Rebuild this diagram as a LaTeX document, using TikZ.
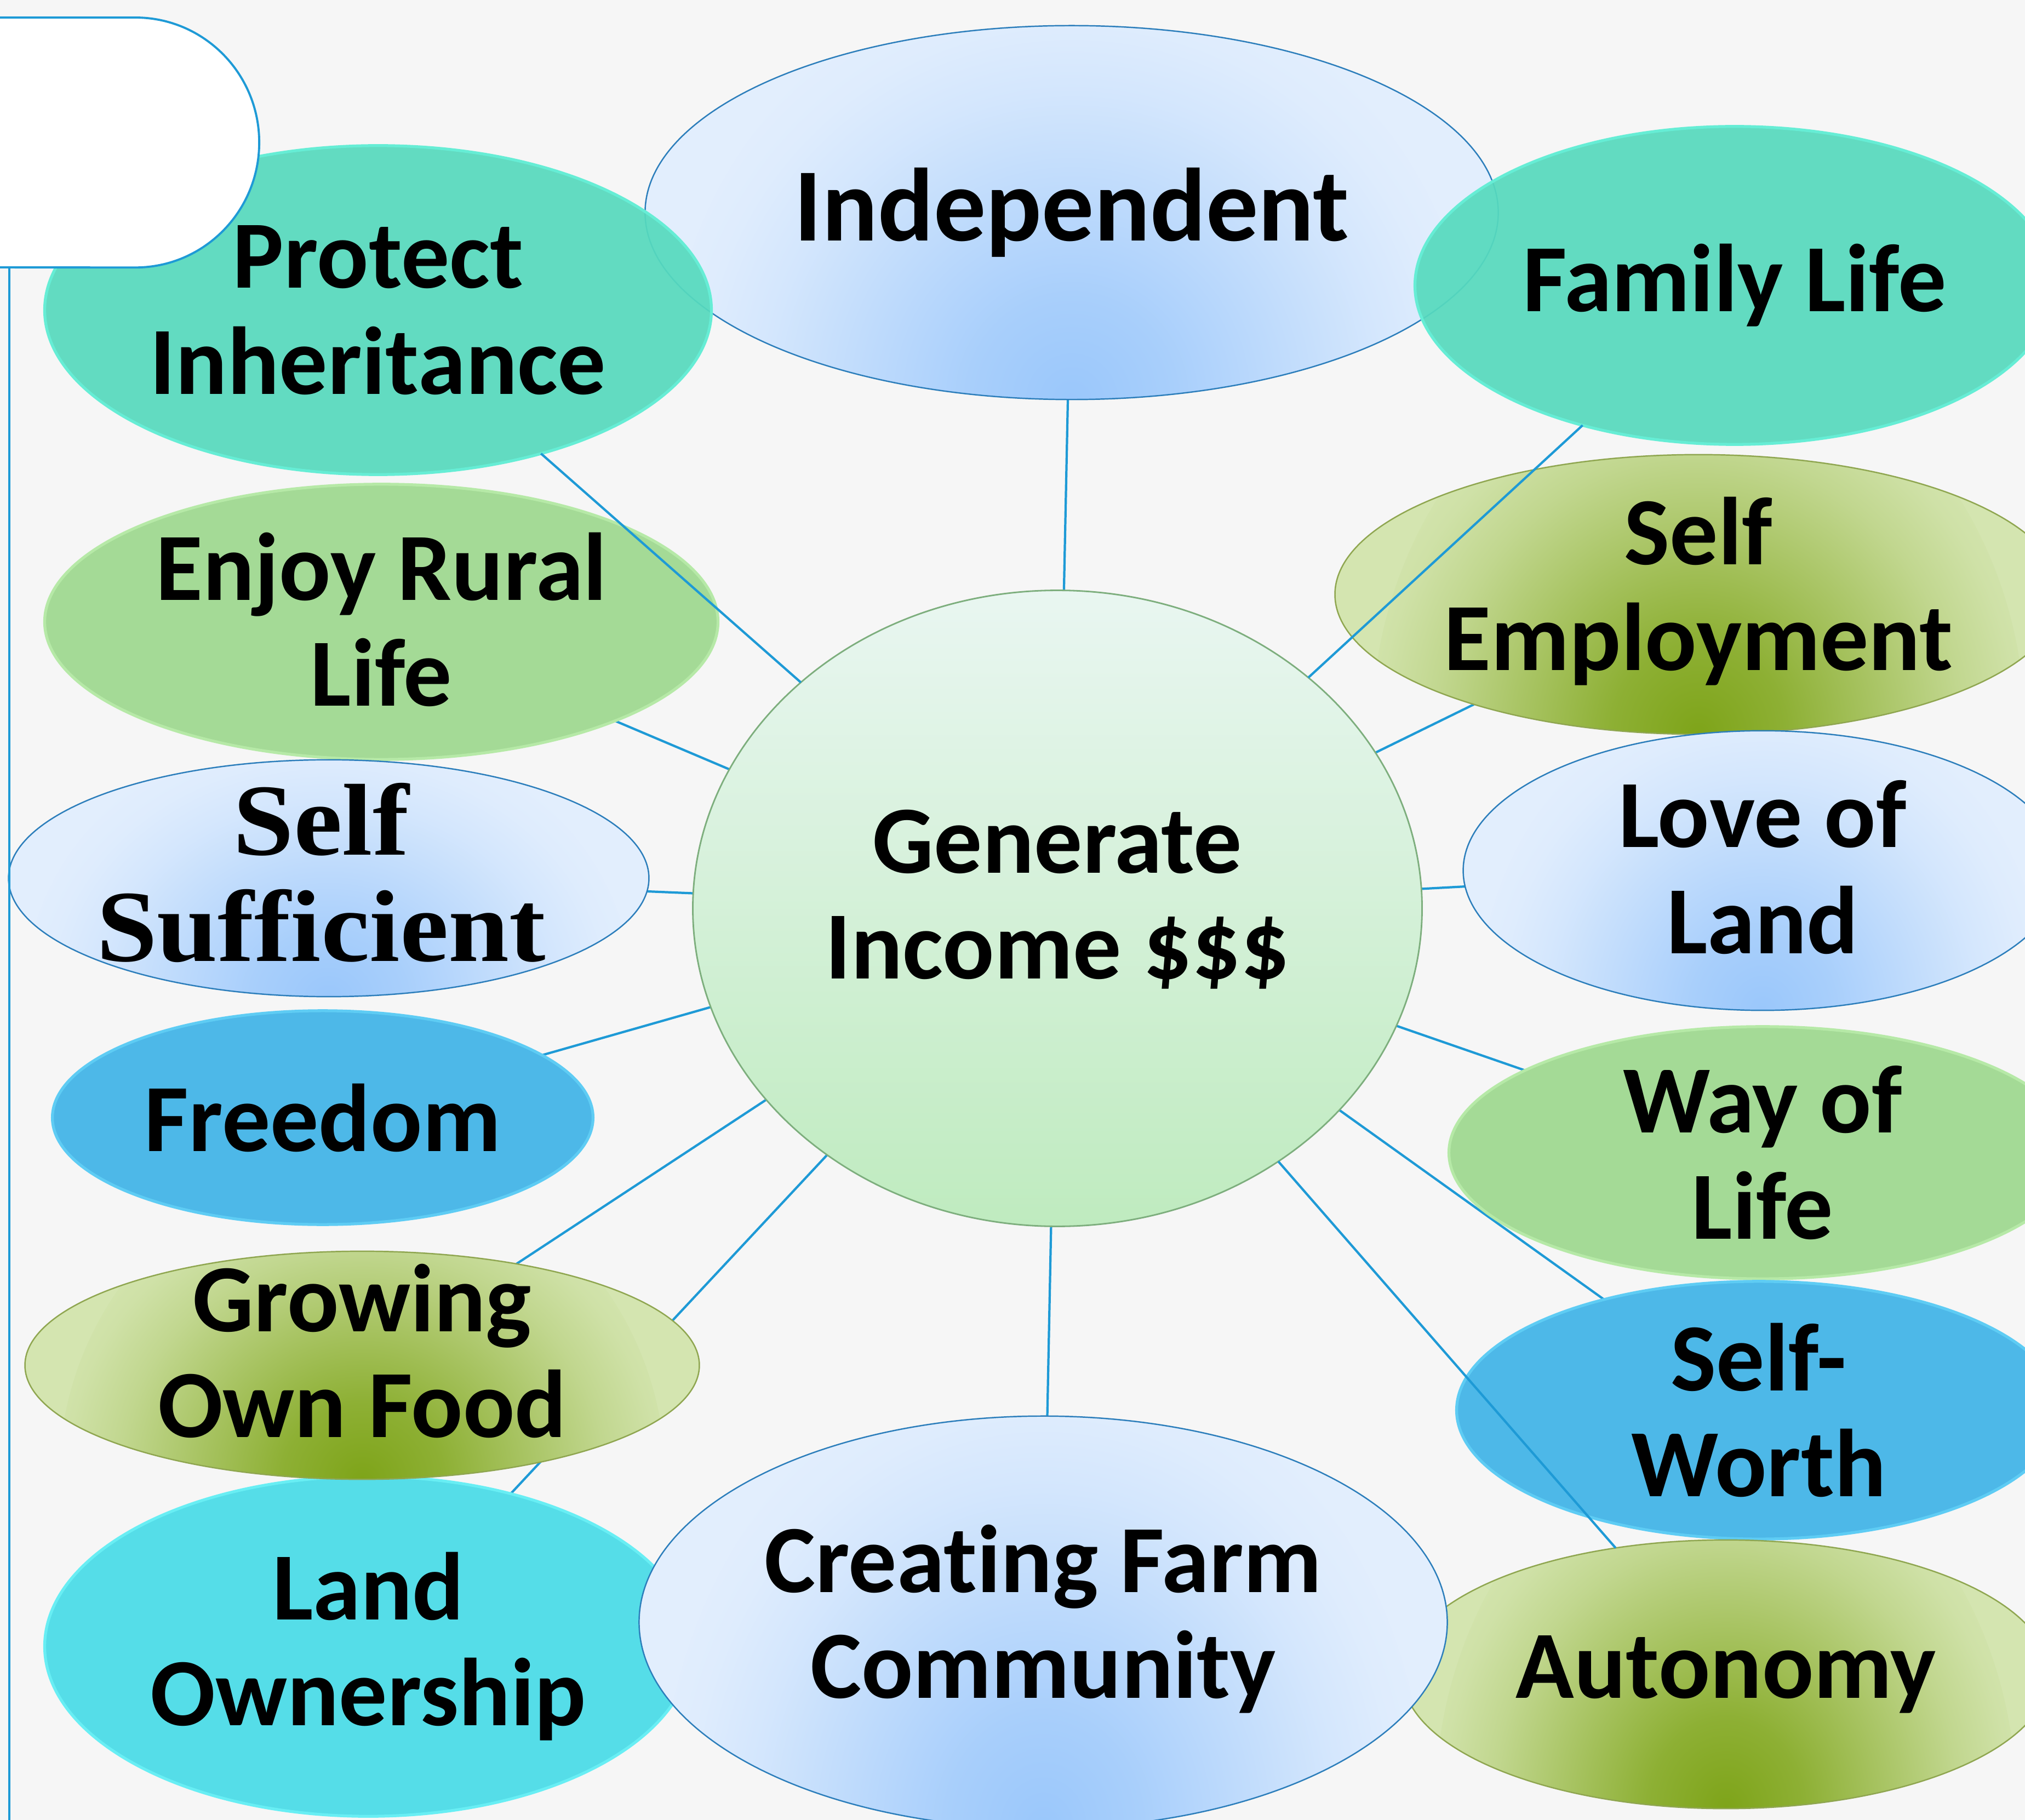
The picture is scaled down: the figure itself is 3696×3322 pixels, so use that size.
\documentclass[tikz,border=0pt]{standalone}
\usepackage{fontspec}
\setmainfont{Carlito}[RawFeature=-liga]
\newfontfamily\sserif{Liberation Serif}[FakeStretch=1.07]
\usetikzlibrary{shapes.geometric}
\pgfdeclarelayer{back}
\pgfdeclarelayer{front}
\pgfsetlayers{back,main,front}

\definecolor{bgc}{HTML}{F6F6F6}
\definecolor{conn}{HTML}{1E9AD6}
\definecolor{bIn}{HTML}{9AC7FB}
\definecolor{bOut}{HTML}{E2EEFD}
\definecolor{bLine}{HTML}{2C7EBB}
\definecolor{tealF}{HTML}{57DABE}
\definecolor{tealL}{HTML}{66EDD5}
\definecolor{lgF}{HTML}{A4DA96}
\definecolor{lgL}{HTML}{B6E9A7}
\definecolor{oIn}{HTML}{7EA419}
\definecolor{oOut}{HTML}{D4E5B0}
\definecolor{oLine}{HTML}{8FA650}
\definecolor{mbF}{HTML}{4DB8E8}
\definecolor{mbL}{HTML}{5ECCF4}
\definecolor{cyF}{HTML}{55DDE8}
\definecolor{cyL}{HTML}{68EEF4}
\definecolor{gTop}{HTML}{E9F6F1}
\definecolor{gBot}{HTML}{BFEBBF}
\definecolor{gLine}{HTML}{7DAE7D}

\pgfdeclareradialshading{bglow}{\pgfpoint{0bp}{0bp}}{color(0bp)=(bIn); color(6bp)=(bIn!80!bOut); color(12bp)=(bIn!50!bOut); color(18bp)=(bIn!20!bOut); color(22bp)=(bIn!5!bOut); color(25bp)=(bOut); color(50bp)=(bOut)}
\pgfdeclareradialshading{oglow}{\pgfpoint{0bp}{0bp}}{color(0bp)=(oIn); color(6bp)=(oIn!82!oOut); color(12bp)=(oIn!52!oOut); color(18bp)=(oIn!22!oOut); color(22bp)=(oIn!6!oOut); color(25bp)=(oOut); color(50bp)=(oOut)}

\tikzset{
  blob/.style={ellipse, inner sep=0pt, outer sep=0pt},
  blueglow/.style 2 args={blob, fill=bOut, draw=bLine, line width=0.7pt,
    path picture={\shade[shading=bglow] (path picture bounding box.south) ellipse [x radius={0.95*#1*0.01cm}, y radius={2.3*#2*0.01cm}];}},
  oliveglow/.style 2 args={blob, fill=oOut, draw=oLine, line width=0.7pt,
    path picture={\shade[shading=oglow] (path picture bounding box.south) ellipse [x radius={0.9*#1*0.01cm}, y radius={2.8*#2*0.01cm}];}},
  tealb/.style 2 args={blob, fill=tealF, fill opacity=0.93, draw=tealL, line width=1.5pt},
  lgreen/.style 2 args={blob, fill=lgF, draw=lgL, line width=1.5pt},
  midblue/.style 2 args={blob, fill=mbF, draw=mbL, line width=1.5pt},
  cyanb/.style 2 args={blob, fill=cyF, draw=cyL, line width=1.5pt},
  genb/.style 2 args={blob, top color=gTop, bottom color=gBot, draw=gLine, line width=0.8pt},
  txt/.style={align=center, inner sep=0pt, font=\bfseries\fontsize{50}{55}\selectfont},
  conn/.style={draw=conn, line width=1.2pt}
}

% name, x, y, rx, ry, style, text options, text
\newcommand\mkblob[8]{%
  \node[#6={#4}{#5}, minimum width={#4*0.02cm}, minimum height={#5*0.02cm}] (#1) at (#2,#3) {};
  \node[txt, #7] (#1t) at (#1.center) {#8};
}

\begin{document}
\begin{tikzpicture}[x=0.01cm, y=-0.01cm]
\begin{pgfonlayer}{back}
  \fill[bgc] (0,0) rectangle (3696,3322);
\end{pgfonlayer}
\useasboundingbox (0,0) rectangle (3696,3322);

\mkblob{indep}{1956}{388}{778}{341}{blueglow}{font=\bfseries\fontsize{54}{60}\selectfont}{Independent}
\mkblob{protect}{690}{566}{608}{300}{tealb}{}{Protect\\Inheritance}
\mkblob{family}{3166}{521}{583}{290}{tealb}{}{Family Life}
\mkblob{selfemp}{3100}{1085}{663}{255}{oliveglow}{yshift=0.06cm}{Self\\Employment}
\mkblob{enjoy}{696}{1135}{614}{251}{lgreen}{yshift=0.04cm}{Enjoy Rural\\Life}
\mkblob{selfsuff}{600}{1603}{584}{216}{blueglow}{font=\sserif\bfseries\fontsize{53}{55}\selectfont, xshift=-0.14cm, yshift=0.1cm}{Self\\Sufficient}
\mkblob{loveland}{3217}{1589}{546}{255}{blueglow}{yshift=0.06cm}{Love of\\Land}
\mkblob{freedom}{589}{2040}{493}{195}{midblue}{}{Freedom}
\mkblob{way}{3217}{2104}{572}{230}{lgreen}{}{Way of\\Life}
\mkblob{landown}{672}{3005}{590}{310}{cyanb}{}{Land\\Ownership}
\mkblob{growing}{661}{2492}{615}{208}{oliveglow}{yshift=0.26cm}{Growing\\Own Food}
\mkblob{selfworth}{3210}{2574}{551}{235}{midblue}{}{Self-\\Worth}
\mkblob{autonomy}{3150}{3056}{590}{245}{oliveglow}{}{Autonomy}
\mkblob{creating}{1904}{2961}{737}{376}{blueglow}{yshift=0.06cm}{Creating Farm\\Community}
\mkblob{gen}{1930}{1658}{665}{580}{genb}{yshift=0.16cm}{Generate\\Income \$\$\$}

\begin{pgfonlayer}{back}
  \draw[conn] (gen) -- (indep);
  \draw[conn] (gen) -- (selfemp);
  \draw[conn] (gen) -- (enjoy);
  \draw[conn] (gen) -- (selfsuff);
  \draw[conn] (gen) -- (loveland);
  \draw[conn] (gen) -- (freedom);
  \draw[conn] (gen) -- (way);
  \draw[conn] (gen) -- (growing);
  \draw[conn] (gen) -- (landown);
  \draw[conn] (gen) -- (selfworth);
  \draw[conn] (gen) -- (creating);
\end{pgfonlayer}

\begin{pgfonlayer}{front}
  \draw[conn] (gen) -- (protect);
  \draw[conn] (gen) -- (family);
  \draw[conn] (gen) -- (autonomy);
  \draw[fill=white, draw=conn, line width=1.1pt] (-60,32) -- (247,32)
    arc[start angle=90, end angle=-90, x radius=2.26cm, y radius=2.28cm] -- (-60,488) -- cycle;
  \draw[draw=conn, line width=1.1pt] (17,488) -- (17,3340);
\end{pgfonlayer}
\end{tikzpicture}
\end{document}
